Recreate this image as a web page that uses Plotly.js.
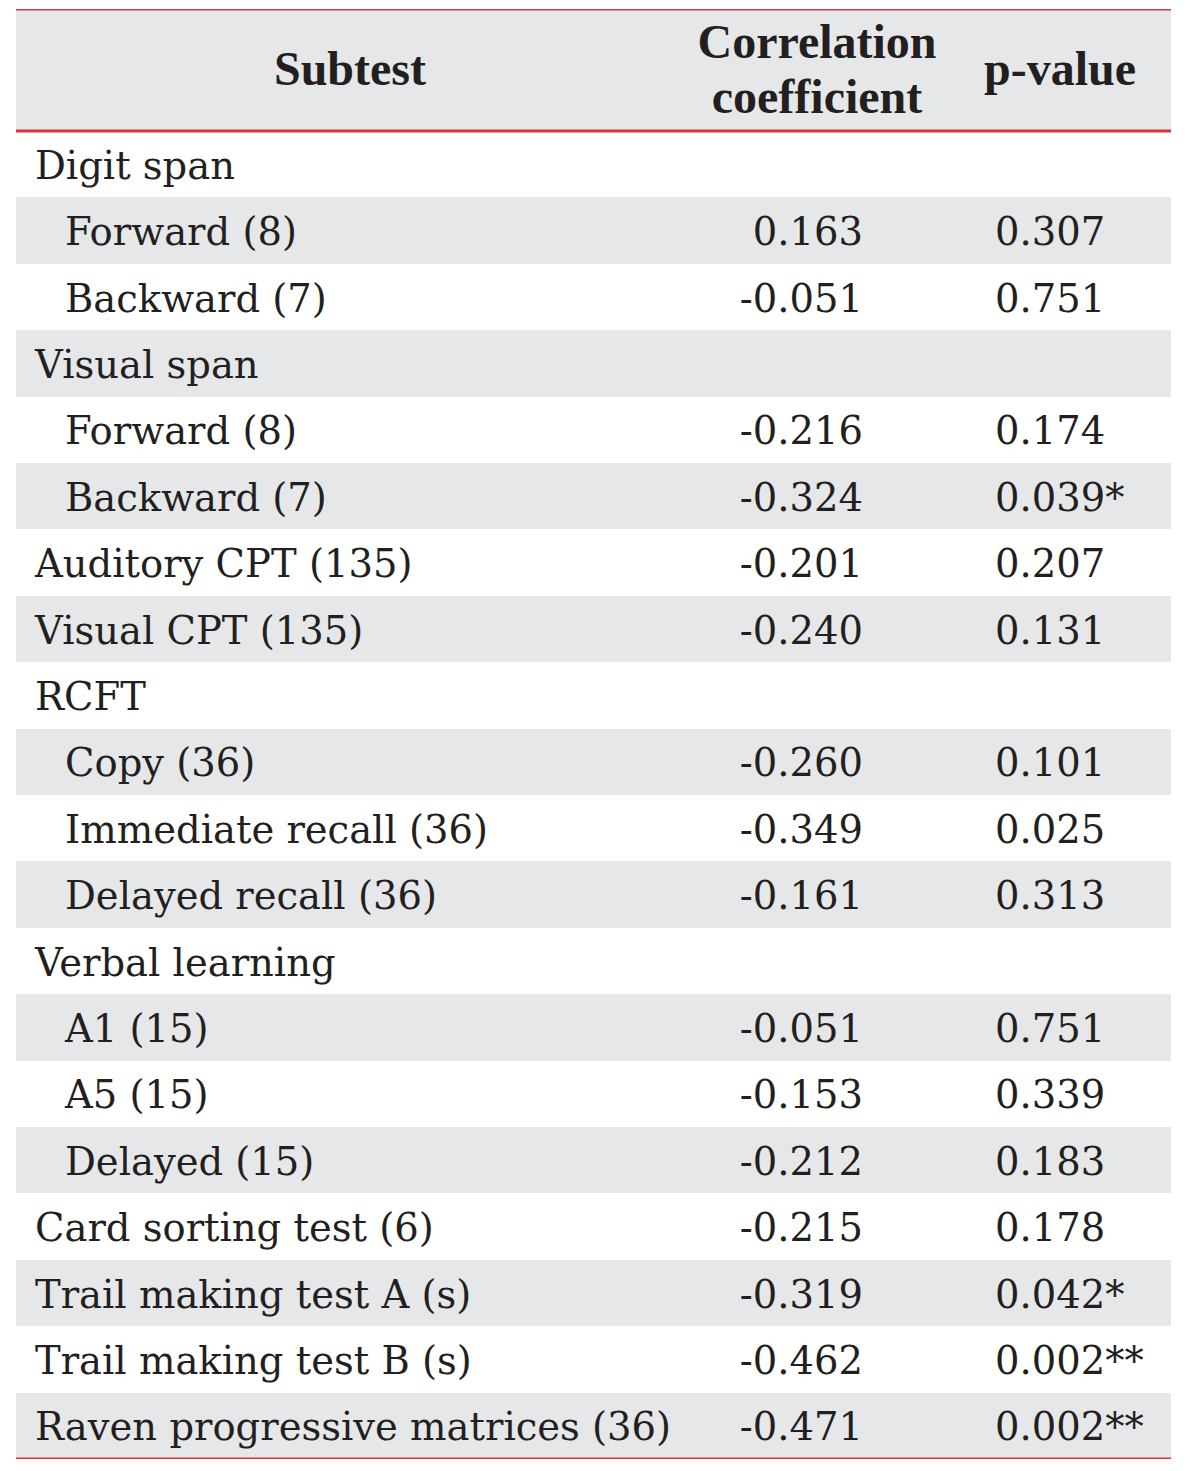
<!DOCTYPE html>
<html>
<head>
<meta charset="utf-8">
<script src="https://cdn.plot.ly/plotly-3.0.1.min.js"></script>
<style>html,body{margin:0;padding:0;background:#fff;}#chart{width:1200px;height:1471px;}</style>
</head>
<body>
<div id="chart"></div>
<script>
// ---- data ----
const headers = ["Subtest", "Correlation coefficient", "p-value"];
const subtests = [
  "Digit span", "Forward (8)", "Backward (7)",
  "Visual span", "Forward (8)", "Backward (7)",
  "Auditory CPT (135)", "Visual CPT (135)",
  "RCFT", "Copy (36)", "Immediate recall (36)", "Delayed recall (36)",
  "Verbal learning", "A1 (15)", "A5 (15)", "Delayed (15)",
  "Card sorting test (6)", "Trail making test A (s)", "Trail making test B (s)",
  "Raven progressive matrices (36)"
];
const indentLevel = [0,1,1, 0,1,1, 0,0, 0,1,1,1, 0,1,1,1, 0,0,0, 0];
const correlation = [null, 0.163, -0.051, null, -0.216, -0.324, -0.201, -0.240,
  null, -0.260, -0.349, -0.161, null, -0.051, -0.153, -0.212, -0.215, -0.319, -0.462, -0.471];
const pValue = [null, 0.307, 0.751, null, 0.174, 0.039, 0.207, 0.131,
  null, 0.101, 0.025, 0.313, null, 0.751, 0.339, 0.183, 0.178, 0.042, 0.002, 0.002];
const significance = ["", "", "", "", "", "*", "", "", "", "", "", "", "", "", "", "", "", "*", "**", "**"];

// ---- layout constants ----
const TABLE_W = 1155;
const ROW_PX = 66.4;
const HDR = 122 / ROW_PX;              // header height in row units
const nRows = subtests.length;
const TEXT_SHIFT = 0.075;              // optical baseline correction (row units)
const GRAY = "#e6e7e8";
const RED = "#d2373e";
const INK = "#231f20";
const bodyFont = {family: "DejaVu Serif", size: 38.5, color: INK};
const headFont = {family: "Liberation Serif", size: 48, color: INK, weight: "bold"};

const rowsY = subtests.map((_, i) => i + 0.5);
const textY = rowsY.map(y => y + TEXT_SHIFT);
const fmt = v => (v === null ? "" : v.toFixed(3));

const traces = [];
// header background
traces.push({
  type: "bar", orientation: "h",
  y: [-HDR / 2], x: [TABLE_W], base: [0], width: [HDR],
  marker: {color: GRAY, line: {width: 0}},
  hoverinfo: "skip"
});
// row backgrounds (alternating)
traces.push({
  type: "bar", orientation: "h",
  y: rowsY, x: subtests.map(() => TABLE_W), base: subtests.map(() => 0),
  width: subtests.map(() => 1),
  marker: {color: subtests.map((_, i) => (i % 2 === 1 ? GRAY : "#ffffff")), line: {width: 0}},
  hoverinfo: "skip"
});
// column 1: subtest names
traces.push({
  type: "scatter", mode: "text",
  x: indentLevel.map(l => (l ? 49 : 19)), y: textY,
  text: subtests, textposition: "middle right",
  textfont: bodyFont, hoverinfo: "skip"
});
// column 2: correlation
traces.push({
  type: "scatter", mode: "text",
  x: correlation.map(() => 847), y: textY,
  text: correlation.map(fmt), textposition: "middle left",
  textfont: bodyFont, hoverinfo: "skip"
});
// column 3: p-value
traces.push({
  type: "scatter", mode: "text",
  x: pValue.map(() => 979), y: textY,
  text: pValue.map((v, i) => (v === null ? "" : fmt(v) + significance[i])),
  textposition: "middle right",
  textfont: bodyFont, hoverinfo: "skip"
});
// header texts
const corrParts = headers[1].split(" ");
traces.push({
  type: "scatter", mode: "text",
  x: [334, 801, 801, 1044],
  y: [-HDR / 2 + 0.05, -HDR * 0.73 + 0.06, -HDR * 0.28 + 0.06, -HDR / 2 + 0.05],
  text: [headers[0], corrParts[0], corrParts[1], headers[2]],
  textposition: "middle center",
  textfont: headFont, hoverinfo: "skip"
});

const lineAt = y => ({type: "line", xref: "x", yref: "y", x0: 0, x1: TABLE_W, y0: y, y1: y,
  line: {color: RED, width: 3}, layer: "above"});

const layout = {
  width: 1200, height: 1471,
  margin: {l: 16, r: 29, t: 9, b: 12, pad: 0},
  paper_bgcolor: "#ffffff", plot_bgcolor: "#ffffff",
  showlegend: false, hovermode: false, bargap: 0, barmode: "overlay",
  xaxis: {range: [0, TABLE_W], visible: false, fixedrange: true},
  yaxis: {range: [nRows, -HDR], visible: false, fixedrange: true},
  shapes: [lineAt(-HDR), lineAt(0), lineAt(nRows)]
};

Plotly.newPlot("chart", traces, layout, {displayModeBar: false, staticPlot: true});
</script>
</body>
</html>
